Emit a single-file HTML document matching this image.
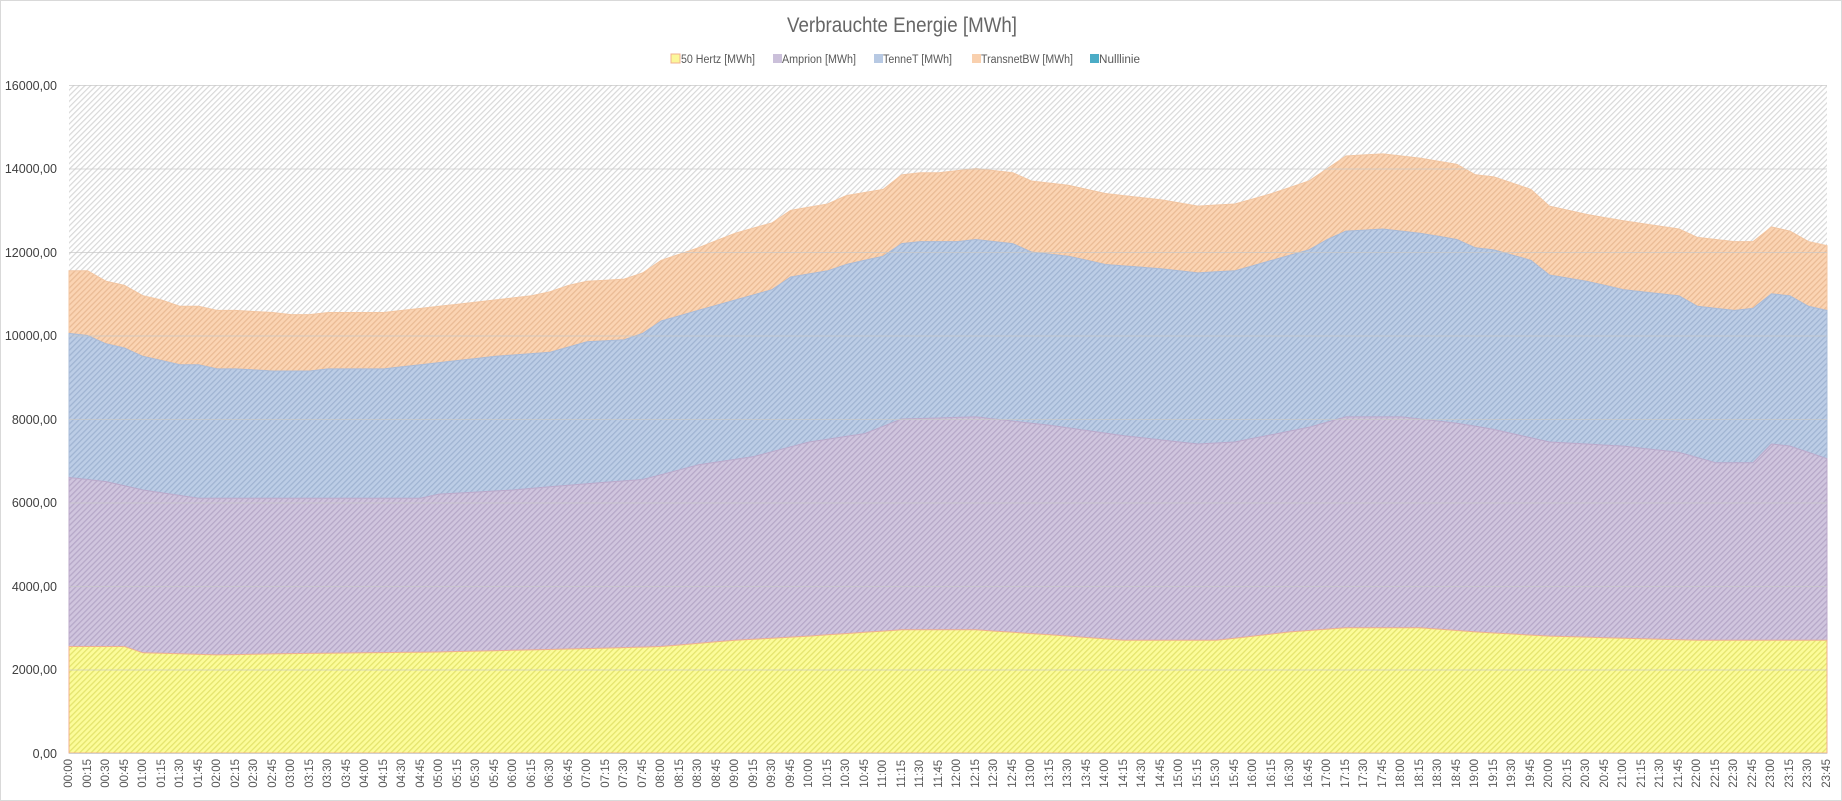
<!DOCTYPE html>
<html><head><meta charset="utf-8">
<style>
html,body{margin:0;padding:0;background:#fff;}
#wrap{position:relative;width:1842px;height:801px;overflow:hidden;font-family:"Liberation Sans",sans-serif;color:#595959;}
#border{position:absolute;left:0;top:0;width:1840px;height:799px;border:1px solid #d9d9d9;}
svg{position:absolute;left:0;top:0;}
#xl{position:absolute;left:60px;top:759px;width:1776px;display:flex;}
#xl div{flex:0 0 18.505px;display:flex;justify-content:center;}
#xl span{writing-mode:vertical-rl;transform:rotate(180deg);font-size:11.5px;line-height:12px;color:#595959;}
</style></head><body>
<div id="wrap">
<div id="border"></div>
<svg width="1842" height="801" xmlns="http://www.w3.org/2000/svg">
<defs>
<pattern id="pbg" width="4" height="4" patternUnits="userSpaceOnUse" patternTransform="rotate(-45)"><rect width="4" height="4" fill="#fff"/><rect width="4" height="1.2" fill="#d8d8d8"/></pattern>
<pattern id="py" width="4" height="4" patternUnits="userSpaceOnUse" patternTransform="rotate(-45)"><rect width="4" height="4" fill="#fcfc9a"/><rect width="4" height="1.3" fill="#e4e46e"/></pattern>
<pattern id="pp" width="4" height="4" patternUnits="userSpaceOnUse" patternTransform="rotate(-45)"><rect width="4" height="4" fill="#d0c5de"/><rect width="4" height="1.3" fill="#b6a8c8"/></pattern>
<pattern id="pb" width="4" height="4" patternUnits="userSpaceOnUse" patternTransform="rotate(-45)"><rect width="4" height="4" fill="#bccde6"/><rect width="4" height="1.3" fill="#a0b4d2"/></pattern>
<pattern id="po" width="4" height="4" patternUnits="userSpaceOnUse" patternTransform="rotate(-45)"><rect width="4" height="4" fill="#fbd4b3"/><rect width="4" height="1.3" fill="#eabb95"/></pattern>
</defs>
<rect x="69" y="85" width="1758" height="668" fill="url(#pbg)"/>
<path id="ao" fill="url(#po)" stroke="#f3c6a2" stroke-width="1"/>
<path id="ab" fill="url(#pb)" stroke="#aabcd9" stroke-width="1"/>
<path id="ap" fill="url(#pp)" stroke="#bcaacb" stroke-width="1"/>
<path id="ay" fill="url(#py)" stroke="#f0b090" stroke-width="1"/>
<g stroke="#c8c8c8" stroke-width="1" opacity="0.7">
<line x1="69" x2="1827" y1="85.5" y2="85.5"/>
<line x1="69" x2="1827" y1="169" y2="169"/>
<line x1="69" x2="1827" y1="252.5" y2="252.5"/>
<line x1="69" x2="1827" y1="336" y2="336"/>
<line x1="69" x2="1827" y1="419.5" y2="419.5"/>
<line x1="69" x2="1827" y1="503" y2="503"/>
<line x1="69" x2="1827" y1="586.5" y2="586.5"/>
<line x1="69" x2="1827" y1="670" y2="670"/>
</g>
<line x1="69" x2="1827" y1="753.5" y2="753.5" stroke="#d0d0d0"/>
<g font-size="12.5" fill="#404040" text-anchor="end" font-family="Liberation Sans, sans-serif">
<text x="57" y="90">16000,00</text>
<text x="57" y="173">14000,00</text>
<text x="57" y="257">12000,00</text>
<text x="57" y="340">10000,00</text>
<text x="57" y="424">8000,00</text>
<text x="57" y="507">6000,00</text>
<text x="57" y="591">4000,00</text>
<text x="57" y="674">2000,00</text>
<text x="57" y="758">0,00</text>
</g>
<text x="902" y="32" font-size="21" fill="#666" text-anchor="middle" textLength="230" lengthAdjust="spacingAndGlyphs" font-family="Liberation Sans, sans-serif">Verbrauchte Energie [MWh]</text>
<g font-size="11.5" fill="#595959" font-family="Liberation Sans, sans-serif">
<rect x="671" y="54" width="9" height="9" fill="#fbf79a" stroke="#f0b090"/><text x="681" y="63" textLength="74" lengthAdjust="spacingAndGlyphs">50 Hertz [MWh]</text>
<rect x="773" y="54" width="9" height="9" fill="#cbc0da"/><text x="782" y="63" textLength="74" lengthAdjust="spacingAndGlyphs">Amprion [MWh]</text>
<rect x="874" y="54" width="9" height="9" fill="#b7c9e3"/><text x="883" y="63" textLength="69" lengthAdjust="spacingAndGlyphs">TenneT [MWh]</text>
<rect x="972" y="54" width="9" height="9" fill="#f9d0ae"/><text x="981" y="63" textLength="92" lengthAdjust="spacingAndGlyphs">TransnetBW [MWh]</text>
<rect x="1090" y="54" width="9" height="9" fill="#4bacc6"/><text x="1099" y="63" textLength="41" lengthAdjust="spacingAndGlyphs">Nulllinie</text>
</g>
</svg>
<div id="xl">
<div><span>00:00</span></div><div><span>00:15</span></div><div><span>00:30</span></div><div><span>00:45</span></div>
<div><span>01:00</span></div><div><span>01:15</span></div><div><span>01:30</span></div><div><span>01:45</span></div>
<div><span>02:00</span></div><div><span>02:15</span></div><div><span>02:30</span></div><div><span>02:45</span></div>
<div><span>03:00</span></div><div><span>03:15</span></div><div><span>03:30</span></div><div><span>03:45</span></div>
<div><span>04:00</span></div><div><span>04:15</span></div><div><span>04:30</span></div><div><span>04:45</span></div>
<div><span>05:00</span></div><div><span>05:15</span></div><div><span>05:30</span></div><div><span>05:45</span></div>
<div><span>06:00</span></div><div><span>06:15</span></div><div><span>06:30</span></div><div><span>06:45</span></div>
<div><span>07:00</span></div><div><span>07:15</span></div><div><span>07:30</span></div><div><span>07:45</span></div>
<div><span>08:00</span></div><div><span>08:15</span></div><div><span>08:30</span></div><div><span>08:45</span></div>
<div><span>09:00</span></div><div><span>09:15</span></div><div><span>09:30</span></div><div><span>09:45</span></div>
<div><span>10:00</span></div><div><span>10:15</span></div><div><span>10:30</span></div><div><span>10:45</span></div>
<div><span>11:00</span></div><div><span>11:15</span></div><div><span>11:30</span></div><div><span>11:45</span></div>
<div><span>12:00</span></div><div><span>12:15</span></div><div><span>12:30</span></div><div><span>12:45</span></div>
<div><span>13:00</span></div><div><span>13:15</span></div><div><span>13:30</span></div><div><span>13:45</span></div>
<div><span>14:00</span></div><div><span>14:15</span></div><div><span>14:30</span></div><div><span>14:45</span></div>
<div><span>15:00</span></div><div><span>15:15</span></div><div><span>15:30</span></div><div><span>15:45</span></div>
<div><span>16:00</span></div><div><span>16:15</span></div><div><span>16:30</span></div><div><span>16:45</span></div>
<div><span>17:00</span></div><div><span>17:15</span></div><div><span>17:30</span></div><div><span>17:45</span></div>
<div><span>18:00</span></div><div><span>18:15</span></div><div><span>18:30</span></div><div><span>18:45</span></div>
<div><span>19:00</span></div><div><span>19:15</span></div><div><span>19:30</span></div><div><span>19:45</span></div>
<div><span>20:00</span></div><div><span>20:15</span></div><div><span>20:30</span></div><div><span>20:45</span></div>
<div><span>21:00</span></div><div><span>21:15</span></div><div><span>21:30</span></div><div><span>21:45</span></div>
<div><span>22:00</span></div><div><span>22:15</span></div><div><span>22:30</span></div><div><span>22:45</span></div>
<div><span>23:00</span></div><div><span>23:15</span></div><div><span>23:30</span></div><div><span>23:45</span></div>
</div>
</div>
<script>
function q(h,m){return h*4+m/15;}
function interp(k){var out=[];for(var i=0;i<96;i++){for(var j=0;j<k.length-1;j++){if(i>=k[j][0]&&i<=k[j+1][0]){var t=(k[j+1][0]==k[j][0])?0:(i-k[j][0])/(k[j+1][0]-k[j][0]);out.push(k[j][1]+t*(k[j+1][1]-k[j][1]));break;}}}return out;}
function K(a){var r=[];for(var i=0;i<a.length;i+=3)r.push([q(a[i],a[i+1]),a[i+2]]);return r;}
var Y=interp(K([0,0,2550,0,45,2550,1,0,2400,2,0,2350,3,0,2380,5,0,2420,7,0,2500,8,0,2550,9,0,2700,10,0,2800,11,15,2950,12,15,2950,13,30,2800,14,15,2700,15,30,2700,16,30,2900,17,15,3000,18,15,3000,19,0,2900,20,0,2800,21,0,2750,22,0,2700,23,45,2700]));
var P=interp(K([0,0,6600,0,30,6500,1,0,6300,1,45,6100,4,45,6100,5,0,6200,6,0,6300,7,0,6450,7,45,6550,8,30,6900,9,15,7100,10,0,7450,10,45,7650,11,15,8000,12,15,8050,13,15,7850,14,15,7600,15,15,7400,15,45,7450,16,45,7800,17,15,8050,18,0,8050,18,45,7900,19,15,7750,20,0,7450,21,0,7350,21,45,7200,22,15,6950,22,45,6950,23,0,7400,23,15,7350,23,45,7050]));
var B=interp(K([0,0,10050,0,15,10000,0,30,9800,0,45,9700,1,0,9500,1,30,9300,1,45,9300,2,0,9200,2,15,9200,2,45,9150,3,15,9150,3,30,9200,4,15,9200,4,45,9300,5,15,9400,5,45,9500,6,30,9600,7,0,9850,7,30,9900,7,45,10050,8,0,10350,8,30,10600,9,0,10850,9,30,11100,9,45,11400,10,15,11550,10,30,11700,11,0,11900,11,15,12200,11,30,12250,12,0,12250,12,15,12300,12,45,12200,13,0,12000,13,30,11900,14,0,11700,14,45,11600,15,15,11500,15,45,11550,16,15,11800,16,45,12050,17,0,12300,17,15,12500,17,45,12550,18,15,12450,18,45,12300,19,0,12100,19,15,12050,19,45,11800,20,0,11450,20,30,11300,21,0,11100,21,45,10950,22,0,10700,22,30,10600,22,45,10650,23,0,11000,23,15,10950,23,30,10700,23,45,10600]));
var O=interp(K([0,0,11550,0,15,11550,0,30,11300,0,45,11200,1,0,10950,1,15,10850,1,30,10700,1,45,10700,2,0,10600,2,15,10600,2,45,10550,3,0,10500,3,15,10500,3,30,10550,4,15,10550,4,45,10650,5,15,10750,5,45,10850,6,15,10950,6,30,11050,6,45,11200,7,0,11300,7,30,11350,7,45,11500,8,0,11800,8,30,12100,9,0,12450,9,30,12700,9,45,13000,10,15,13150,10,30,13350,11,0,13500,11,15,13850,11,30,13900,11,45,13900,12,15,14000,12,45,13900,13,0,13700,13,30,13600,14,0,13400,14,45,13250,15,15,13100,15,45,13150,16,15,13400,16,45,13700,17,0,14000,17,15,14300,17,45,14350,18,15,14250,18,45,14100,19,0,13850,19,15,13800,19,45,13500,20,0,13100,20,30,12900,21,0,12750,21,45,12550,22,0,12350,22,30,12250,22,45,12250,23,0,12600,23,15,12500,23,30,12250,23,45,12150]));
var x0=69,x1=1827,y0=753,ys=668/16000;
function X(i){return x0+i*(x1-x0)/95;}
function Yv(v){return y0-v*ys;}
function area(top,bot){var d='M'+X(0)+','+Yv(top[0]);for(var i=1;i<96;i++)d+='L'+X(i).toFixed(1)+','+Yv(top[i]).toFixed(1);for(var i=95;i>=0;i--)d+='L'+X(i).toFixed(1)+','+Yv(bot?bot[i]:0).toFixed(1);return d+'Z';}
document.getElementById('ao').setAttribute('d',area(O,B));
document.getElementById('ab').setAttribute('d',area(B,P));
document.getElementById('ap').setAttribute('d',area(P,Y));
document.getElementById('ay').setAttribute('d',area(Y,null));
</script>
</body></html>
